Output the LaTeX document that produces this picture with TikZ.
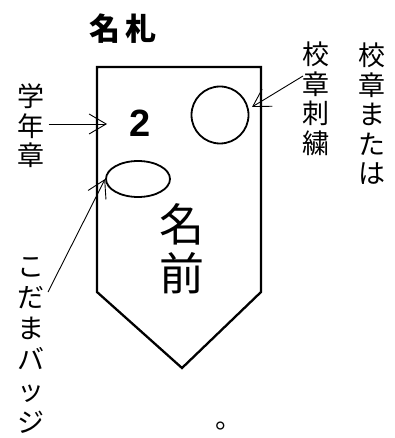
\documentclass[tikz,border=0pt]{standalone}
\usepackage{fontspec}
\newfontfamily\cjk{Noto Sans CJK JP}
\setmainfont{Liberation Sans}
\usetikzlibrary{arrows.meta,shapes.geometric}
\begin{document}
\begin{tikzpicture}[x=1pt,y=-1pt,
  lbl/.style={font=\cjk\fontsize{27}{29.5}\selectfont, align=center, inner sep=0pt},
  lbl2/.style={font=\cjk\fontsize{27}{31.2}\selectfont, align=center, inner sep=0pt},
  ptr/.style={line width=0.9pt, -{Straight Barb[length=17pt,width=20pt]}},
  outline/.style={line width=2.3pt, line join=miter},
  badge/.style={draw, line width=1.8pt, inner sep=0pt}]
\useasboundingbox (0,0) rectangle (395,438);
% name tag outline
\draw[outline] (97,67) -- (261,67) -- (261,292) -- (182,368) -- (97,292) -- cycle;
% texts
\node[font=\cjk\bfseries\fontsize{31}{31}\selectfont, inner sep=0pt] (title) at (123,29) {名\hspace{5pt}札};
\node[font=\bfseries\fontsize{38}{38}\selectfont, inner sep=0pt] (two) at (140,123) {2};
\node[font=\cjk\fontsize{45}{49}\selectfont, align=center, inner sep=0pt] (name) at (182,249) {名\\前};
\node[badge, circle, minimum size=57pt] (crest) at (220,115) {};
\node[badge, ellipse, minimum width=64pt, minimum height=36pt] (kodama) at (138,179) {};
\node[lbl] (lblA) at (31,126) {学\\年\\章};
\node[lbl] (lblB) at (316,99) {校\\章\\刺\\繍};
\node[lbl] (lblC) at (372,114) {校\\章\\ま\\た\\は};
\node[lbl2] (lblD) at (31,345) {こ\\だ\\ま\\バ\\ッ\\ジ};
\node[font=\cjk\fontsize{27}{27}\selectfont, inner sep=0pt, anchor=base west] (dot) at (215.5,428.5) {。};
% connectors
\coordinate (tipA) at (107,124);
\coordinate (tailB) at (303,76);
\coordinate (tipB) at (252,107);
\coordinate (tailD) at (48,292);
\draw[ptr] (lblA.east |- tipA) ++(4,0) -- (tipA);
\draw[ptr] (tailB) -- (tipB);
\draw[ptr] (tailD) -- (kodama.west);
\end{tikzpicture}
\end{document}
